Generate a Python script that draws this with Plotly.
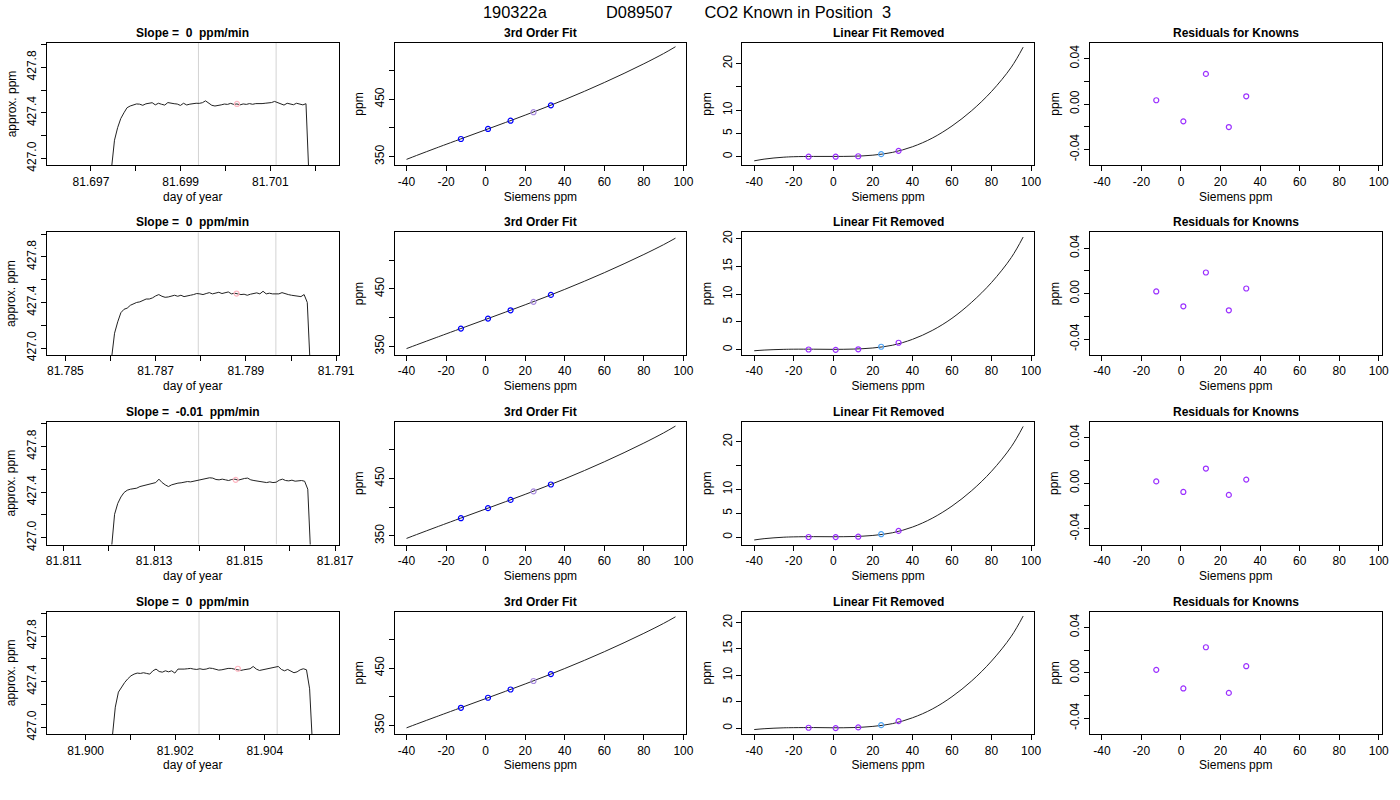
import plotly.graph_objects as go
from plotly.subplots import make_subplots

# ---------------- data ----------------
NB = "\u00a0"
MAIN_TITLE = "190322a" + NB * 13 + "D089507" + NB * 7 + "CO2 Known in Position" + NB * 2 + "3"

SLOPE_TITLES = ["Slope =  0  ppm/min", "Slope =  0  ppm/min",
                "Slope =  -0.01  ppm/min", "Slope =  0  ppm/min"]
FIT_TITLE = "3rd Order Fit"
LINREM_TITLE = "Linear Fit Removed"
RESID_TITLE = "Residuals for Knowns"

# time series (day of year, approx. ppm), regular sampling
TS_START = [81.697455, 81.786020, 81.812055, 81.900592]
TS_STEP = 0.00007
TS_ROW1 = [426.90, 427.16, 427.27, 427.35, 427.40, 427.445, 427.46, 427.468, 427.478, 427.476,
           427.466, 427.479, 427.483, 427.489, 427.470, 427.484, 427.475, 427.468, 427.490, 427.482,
           427.480, 427.477, 427.465, 427.484, 427.469, 427.476, 427.481, 427.484, 427.483, 427.489,
           427.505, 427.489, 427.466, 427.460, 427.463, 427.470, 427.477, 427.474, 427.483, 427.474,
           427.478, 427.470, 427.478, 427.474, 427.481, 427.475, 427.481, 427.478, 427.481, 427.484,
           427.484, 427.490, 427.500, 427.489, 427.476, 427.468, 427.484, 427.480, 427.471, 427.484,
           427.477, 427.470, 427.480, 426.80]
TS_ROW2 = [426.90, 427.13, 427.23, 427.31, 427.34, 427.35, 427.375, 427.39, 427.40, 427.405,
           427.415, 427.43, 427.43, 427.44, 427.457, 427.469, 427.454, 427.445, 427.448, 427.454,
           427.463, 427.454, 427.463, 427.451, 427.454, 427.463, 427.469, 427.478, 427.475, 427.469,
           427.478, 427.486, 427.475, 427.481, 427.489, 427.478, 427.484, 427.492, 427.475, 427.481,
           427.475, 427.469, 427.472, 427.463, 427.472, 427.478, 427.484, 427.475, 427.498, 427.475,
           427.481, 427.475, 427.478, 427.475, 427.486, 427.475, 427.469, 427.463, 427.460, 427.454,
           427.451, 427.469, 427.40, 426.80]
TS_ROW3 = [426.90, 427.205, 427.30, 427.357, 427.396, 427.416, 427.425, 427.428, 427.434, 427.448,
           427.454, 427.46, 427.472, 427.475, 427.483, 427.513, 427.483, 427.463, 427.448, 427.463,
           427.472, 427.478, 427.481, 427.486, 427.492, 427.489, 427.495, 427.504, 427.51, 427.513,
           427.519, 427.525, 427.522, 427.51, 427.507, 427.513, 427.507, 427.501, 427.51, 427.513,
           427.504, 427.513, 427.519, 427.522, 427.507, 427.501, 427.495, 427.492, 427.486, 427.483,
           427.489, 427.483, 427.486, 427.504, 427.513, 427.501, 427.498, 427.504, 427.495, 427.498,
           427.501, 427.495, 427.425, 426.80]
TS_ROW4 = [426.90, 427.176, 427.308, 427.355, 427.393, 427.425, 427.451, 427.466, 427.475, 427.472,
           427.478, 427.472, 427.466, 427.495, 427.51, 427.489, 427.483, 427.495, 427.486, 427.495,
           427.475, 427.51, 427.507, 427.51, 427.513, 427.516, 427.51, 427.507, 427.513, 427.507,
           427.51, 427.519, 427.516, 427.51, 427.501, 427.504, 427.513, 427.516, 427.516, 427.51,
           427.507, 427.498, 427.504, 427.507, 427.513, 427.533, 427.51, 427.498, 427.504, 427.51,
           427.513, 427.519, 427.53, 427.533, 427.507, 427.495, 427.507, 427.492, 427.478, 427.486,
           427.504, 427.513, 427.504, 427.337, 426.80]
TS_ROWS = [TS_ROW1, TS_ROW2, TS_ROW3, TS_ROW4]

WIN_START = [81.699397, 81.787945, 81.813982, 81.902532]
WIN_END = [81.701129, 81.789664, 81.815701, 81.904277]
MEAN_T = [81.700256, 81.788793, 81.814801, 81.903400]
MEAN_PPM = [427.478, 427.478, 427.507, 427.513]

TS_XTICKS = [
    [81.697, 81.698, 81.699, 81.700, 81.701, 81.702],
    [81.785, 81.786, 81.787, 81.788, 81.789, 81.790, 81.791],
    [81.811, 81.812, 81.813, 81.814, 81.815, 81.816, 81.817],
    [81.900, 81.901, 81.902, 81.903, 81.904, 81.905],
]
TS_XTICKTEXT = [
    ["81.697", "", "81.699", "", "81.701", ""],
    ["81.785", "", "81.787", "", "81.789", "", "81.791"],
    ["81.811", "", "81.813", "", "81.815", "", "81.817"],
    ["81.900", "", "81.902", "", "81.904", ""],
]
TS_YTICKS = [427.0, 427.2, 427.4, 427.6, 427.8, 428.0]
TS_YTICKTEXT = ["427.0", "", "427.4", "", "427.8", ""]

# knowns
KNOWN_SIEMENS = [-12.5, 1.2, 12.6, 24.2, 33.0]
KNOWN_PPM = [380.8, 398.3, 412.7, 427.47, 439.5]
HIGHLIGHT = 3

# fitted curves
CURVE_X = [-40, -35, -30, -25, -20, -10, 0, 10, 20, 30, 40, 50, 60, 70, 80, 90, 96]
FIT_ROWS = [
    [345.34, 352.02, 358.59, 365.08, 371.50, 384.20, 396.84, 409.52, 422.39, 435.63,
     449.47, 463.96, 479.20, 495.14, 511.88, 529.72, 541.60],
    [346.00, 352.44, 358.84, 365.21, 371.56, 384.20, 396.81, 409.50, 422.34, 435.48,
     449.17, 463.41, 478.25, 493.79, 509.98, 527.12, 538.40],
    [345.60, 352.19, 358.69, 365.14, 371.53, 384.22, 396.84, 409.52, 422.39, 435.60,
     449.42, 463.91, 479.10, 494.99, 511.68, 529.47, 541.30],
    [345.92, 352.40, 358.82, 365.21, 371.56, 384.22, 396.82, 409.50, 422.36, 435.53,
     449.27, 463.56, 478.55, 494.19, 510.58, 527.92, 539.34],
]
LINREM_ROWS = [
    [-0.86, -0.50, -0.25, -0.08, 0.02, 0.08, 0.08, 0.12, 0.35, 0.95, 2.15, 4.0, 6.6, 9.9, 14.0, 19.2, 23.5],
    [-0.20, -0.08, 0.0, 0.05, 0.08, 0.08, 0.05, 0.10, 0.30, 0.80, 1.85, 3.45, 5.65, 8.55, 12.1, 16.6, 20.3],
    [-0.60, -0.33, -0.15, -0.02, 0.05, 0.10, 0.08, 0.12, 0.35, 0.92, 2.10, 3.95, 6.5, 9.75, 13.8, 18.95, 23.2],
    [-0.28, -0.12, -0.02, 0.05, 0.08, 0.10, 0.06, 0.10, 0.32, 0.85, 1.95, 3.6, 5.95, 8.95, 12.7, 17.4, 21.24],
]
LINREM_KNOWN_ROWS = [
    [0.02, 0.02, 0.12, 0.57, 1.28],
    [0.02, -0.04, 0.06, 0.52, 1.24],
    [0.02, 0.0, 0.08, 0.61, 1.30],
    [0.06, 0.0, 0.13, 0.55, 1.31],
]
RESID_ROWS = [
    [0.0033, -0.0153, 0.0265, -0.0203, 0.0068],
    [0.0019, -0.0112, 0.0186, -0.0147, 0.0045],
    [0.0016, -0.0077, 0.0129, -0.0103, 0.0032],
    [0.0026, -0.0138, 0.0225, -0.0177, 0.0058],
]

SIEM_TICKS = [-40, -20, 0, 20, 40, 60, 80, 100]
FIT_YTICKS = [350, 400, 450, 500]
FIT_YTICKTEXT = ["350", "", "450", ""]
LINREM_YTICKS = [0, 5, 10, 15, 20]
LINREM_YTICKTEXT = [["0", "5", "10", "", "20"], ["0", "5", "10", "15", "20"],
                    ["0", "5", "10", "", "20"], ["0", "5", "10", "15", "20"]]
RESID_YTICKS = [-0.04, -0.02, 0.0, 0.02, 0.04]
RESID_YTICKTEXT = ["-0.04", "", "0.00", "", "0.04"]

# ---------------- layout / style ----------------
FONT = "Liberation Sans, Arial, Helvetica, sans-serif"
W, H = 1400, 800
COL_LEFT0, COL_STEP, COL_W = 47.0, 347.67, 291.5
ROW_TOP0, ROW_STEP, ROW_H = 42.7, 189.6, 122.6

TS_XRANGES = [[81.69602, 81.70252], [81.784593, 81.791052],
              [81.810631, 81.817074], [81.899137, 81.905647]]
TS_YRANGE = [426.94, 428.015]
SIEM_RANGE = [-46.0, 101.4]
FIT_YRANGE = [335.0, 548.6]
LINREM_YRANGES = [[-1.82, 24.45], [-0.95, 21.15], [-1.55, 24.15], [-1.14, 22.1]]
RESID_YRANGE = [-0.054, 0.054]

BLUE = "#0000FF"
LAVENDER = "#A98BE0"
PURPLE = "#9B30FF"
SKY = "#4DA3F5"
PINK = "#FFB6C1"
GRAYLINE = "#D3D3D3"

fig = make_subplots(rows=4, cols=4)


def mk_marker(colors):
    return dict(symbol="circle-open", size=5, color=colors, line=dict(width=1.2, color=colors))


for r in range(4):
    # --- column 1: time series
    ts = TS_ROWS[r]
    tx = [TS_START[r] + i * TS_STEP for i in range(len(ts))]
    for wx in (WIN_START[r], WIN_END[r]):
        fig.add_trace(go.Scatter(x=[wx, wx], y=TS_YRANGE, mode="lines",
                                 line=dict(color=GRAYLINE, width=1), hoverinfo="skip"),
                      row=r + 1, col=1)
    fig.add_trace(go.Scatter(x=tx, y=ts, mode="lines", line=dict(color="#222222", width=1)),
                  row=r + 1, col=1)
    fig.add_trace(go.Scatter(x=[MEAN_T[r]], y=[MEAN_PPM[r]], mode="markers",
                             marker=mk_marker(PINK)), row=r + 1, col=1)

    # --- column 2: 3rd order fit
    fig.add_trace(go.Scatter(x=CURVE_X, y=FIT_ROWS[r], mode="lines", line_shape="spline",
                             line=dict(color="#222222", width=1)), row=r + 1, col=2)
    cols2 = [LAVENDER if i == HIGHLIGHT else BLUE for i in range(len(KNOWN_SIEMENS))]
    fig.add_trace(go.Scatter(x=KNOWN_SIEMENS, y=KNOWN_PPM, mode="markers",
                             marker=mk_marker(cols2)), row=r + 1, col=2)

    # --- column 3: linear fit removed
    fig.add_trace(go.Scatter(x=CURVE_X, y=LINREM_ROWS[r], mode="lines", line_shape="spline",
                             line=dict(color="#222222", width=1)), row=r + 1, col=3)
    cols3 = [SKY if i == HIGHLIGHT else PURPLE for i in range(len(KNOWN_SIEMENS))]
    fig.add_trace(go.Scatter(x=KNOWN_SIEMENS, y=LINREM_KNOWN_ROWS[r], mode="markers",
                             marker=mk_marker(cols3)), row=r + 1, col=3)

    # --- column 4: residuals
    fig.add_trace(go.Scatter(x=KNOWN_SIEMENS, y=RESID_ROWS[r], mode="markers",
                             marker=mk_marker(PURPLE)), row=r + 1, col=4)

axis_common = dict(showline=True, linecolor="black", linewidth=1, mirror=True,
                   ticks="outside", ticklen=5, tickwidth=1, tickcolor="black",
                   showgrid=False, zeroline=False, automargin=False,
                   tickfont=dict(family=FONT, size=12, color="black"))

annotations = []
for r in range(4):
    top = ROW_TOP0 + r * ROW_STEP
    bot = top + ROW_H
    ydom = [1 - bot / H, 1 - top / H]
    for c in range(4):
        left = COL_LEFT0 + c * COL_STEP
        right = left + COL_W
        xdom = [left / W, right / W]
        n = r * 4 + c + 1
        xa = dict(axis_common, domain=xdom)
        ya = dict(axis_common, domain=ydom, tickangle=-90)
        if c == 0:
            xa.update(range=TS_XRANGES[r], tickmode="array", tickvals=TS_XTICKS[r],
                      ticktext=TS_XTICKTEXT[r])
            ya.update(range=TS_YRANGE, tickmode="array", tickvals=TS_YTICKS, ticktext=TS_YTICKTEXT)
            xt, yt = "day of year", "approx. ppm"
            title = SLOPE_TITLES[r].replace(" ", NB)
        else:
            xa.update(range=SIEM_RANGE, tickmode="array", tickvals=SIEM_TICKS,
                      ticktext=[str(v) for v in SIEM_TICKS])
            xt, yt = "Siemens ppm", "ppm"
            if c == 1:
                ya.update(range=FIT_YRANGE, tickmode="array", tickvals=FIT_YTICKS,
                          ticktext=FIT_YTICKTEXT)
                title = FIT_TITLE
            elif c == 2:
                ya.update(range=LINREM_YRANGES[r], tickmode="array", tickvals=LINREM_YTICKS,
                          ticktext=LINREM_YTICKTEXT[r])
                title = LINREM_TITLE
            else:
                ya.update(range=RESID_YRANGE, tickmode="array", tickvals=RESID_YTICKS,
                          ticktext=RESID_YTICKTEXT)
                title = RESID_TITLE
        xa["title"] = dict(text=xt, standoff=4, font=dict(family=FONT, size=12, color="black"))
        ya["title"] = dict(text=yt, standoff=6, font=dict(family=FONT, size=12, color="black"))
        fig.layout["xaxis%d" % n].update(xa)
        fig.layout["yaxis%d" % n].update(ya)
        annotations.append(dict(text="<b>%s</b>" % title,
                                x=(xdom[0] + xdom[1]) / 2, y=ydom[1], xref="paper", yref="paper",
                                xanchor="center", yanchor="bottom", yshift=1, showarrow=False,
                                font=dict(family=FONT, size=12, color="black")))

fig.update_layout(
    width=W, height=H,
    margin=dict(l=0, r=0, t=0, b=0),
    paper_bgcolor="white", plot_bgcolor="white",
    showlegend=False,
    title=dict(text=MAIN_TITLE, x=483 / W, xanchor="left", y=1 - 12 / H, yanchor="middle",
               font=dict(family=FONT, size=16.4, color="black")),
    annotations=annotations,
)

fig.write_html("out.html", config={"displayModeBar": False},
               post_script="document.body.style.margin='0px';")
